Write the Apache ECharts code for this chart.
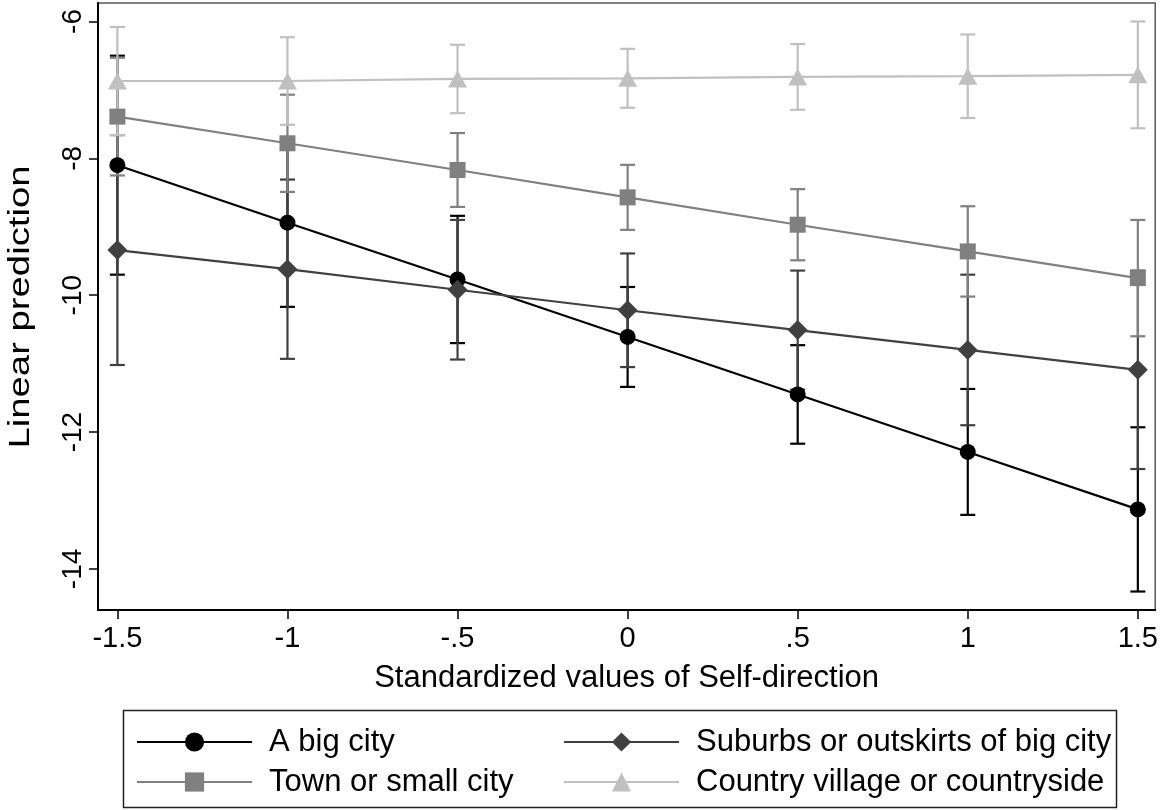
<!DOCTYPE html>
<html>
<head>
<meta charset="utf-8">
<script src="https://cdn.jsdelivr.net/npm/echarts@6/dist/echarts.min.js"></script>
<style>
html,body{margin:0;padding:0;background:#fff;}
#chart{width:1161px;height:810px;}
</style>
</head>
<body>
<div id="chart"></div>
<script>
// ---- data ----
const xValues = [-1.5, -1, -0.5, 0, 0.5, 1, 1.5];
const xTickLabels = ['-1.5', '-1', '-.5', '0', '.5', '1', '1.5'];
const yTickValues = [-14, -12, -10, -8, -6];
const yTickLabels = ['-14', '-12', '-10', '-8', '-6'];

const seriesNames = ['A big city', 'Suburbs or outskirts of big city', 'Town or small city', 'Country village or countryside'];

const bigCity     = [-8.10, -8.94, -9.77, -10.61, -11.45, -12.29, -13.13];
const bigCityCI   = [1.60, 1.23, 0.93, 0.73, 0.72, 0.92, 1.20];
const suburbs     = [-9.34, -9.62, -9.92, -10.22, -10.51, -10.80, -11.09];
const suburbsCI   = [1.68, 1.31, 1.02, 0.83, 0.87, 1.10, 1.45];
const town        = [-7.39, -7.78, -8.17, -8.57, -8.97, -9.36, -9.75];
const townCI      = [0.86, 0.71, 0.54, 0.475, 0.52, 0.66, 0.85];
const country     = [-6.87, -6.87, -6.84, -6.83, -6.81, -6.80, -6.78];
const countryCI   = [0.79, 0.64, 0.50, 0.43, 0.48, 0.61, 0.78];

// ---- styling ----
const FONT = '"Liberation Sans", Arial, sans-serif';
const colors = ['#000000', '#404040', '#808080', '#c0c0c0'];
const symbols = ['circle', 'diamond', 'rect', 'triangle'];
const symbolSizes = [16, 20, 16, [19, 17]];
const means = [bigCity, suburbs, town, country];
const cis = [bigCityCI, suburbsCI, townCI, countryCI];

const chart = echarts.init(document.getElementById('chart'), null, {renderer: 'canvas'});

function makeCI(i) {
  const data = xValues.map((x, k) => [x, means[i][k] - cis[i][k], means[i][k] + cis[i][k]]);
  const color = colors[i];
  return {
    type: 'custom',
    name: 'ci' + i,
    z: 2 + i * 0.01,
    silent: true,
    data: data,
    encode: {x: 0, y: [1, 2]},
    renderItem: function (params, api) {
      const x = api.value(0);
      const pLo = api.coord([x, api.value(1)]);
      const pHi = api.coord([x, api.value(2)]);
      const hw = 7.5;
      const st = {stroke: color, lineWidth: 2.2, fill: null};
      return {
        type: 'group',
        children: [
          {type: 'line', shape: {x1: pLo[0], y1: pLo[1], x2: pHi[0], y2: pHi[1]}, style: st},
          {type: 'line', shape: {x1: pLo[0] - hw, y1: pLo[1], x2: pLo[0] + hw, y2: pLo[1]}, style: st},
          {type: 'line', shape: {x1: pHi[0] - hw, y1: pHi[1], x2: pHi[0] + hw, y2: pHi[1]}, style: st}
        ]
      };
    }
  };
}

function makeLine(i) {
  return {
    type: 'line',
    name: seriesNames[i],
    z: 5 + i * 0.01,
    data: xValues.map((x, k) => [x, means[i][k]]),
    symbol: symbols[i],
    symbolSize: symbolSizes[i],
    showSymbol: true,
    lineStyle: {color: colors[i], width: 2.2},
    itemStyle: {color: colors[i]},
    emphasis: {disabled: true},
    animation: false
  };
}

const series = [];
for (let i = 0; i < 4; i++) series.push(makeCI(i));
for (let i = 0; i < 4; i++) series.push(makeLine(i));

const legendCommon = {
  orient: 'vertical',
  top: 726,
  padding: 0,
  itemWidth: 115,
  itemHeight: 24,
  itemGap: 8,
  selectedMode: false,
  textStyle: {fontFamily: FONT, fontSize: 31, color: '#000', lineHeight: 32, padding: [0, 0, 0, 12]}
};

const option = {
  backgroundColor: '#ffffff',
  animation: false,
  textStyle: {fontFamily: FONT},
  grid: {
    left: 98, right: 5, top: 3, bottom: 200,
    show: true, borderColor: '#555', borderWidth: 1.5, backgroundColor: 'transparent'
  },
  xAxis: {
    type: 'value',
    min: -1.557, max: 1.551,
    name: 'Standardized values of Self-direction',
    nameLocation: 'middle',
    nameGap: 53,
    nameTextStyle: {fontFamily: FONT, fontSize: 31, color: '#000'},
    axisLine: {show: true, onZero: false, lineStyle: {color: '#000', width: 2}},
    axisTick: {show: true, length: 9, lineStyle: {color: '#000', width: 1.5}, customValues: xValues},
    axisLabel: {
      show: true, margin: 14, fontFamily: FONT, fontSize: 29, color: '#000',
      customValues: xValues,
      formatter: function (v) {
        const k = xValues.findIndex(t => Math.abs(t - v) < 1e-6);
        return k >= 0 ? xTickLabels[k] : '';
      }
    },
    splitLine: {show: false}
  },
  yAxis: {
    type: 'value',
    min: -14.60, max: -5.73,
    axisLine: {show: true, onZero: false, lineStyle: {color: '#000', width: 2}},
    axisTick: {show: true, length: 9, lineStyle: {color: '#000', width: 1.5}, customValues: yTickValues},
    axisLabel: {
      show: true, margin: 11, rotate: 90, fontFamily: FONT, fontSize: 28, color: '#000',
      customValues: yTickValues,
      formatter: function (v) {
        const k = yTickValues.findIndex(t => Math.abs(t - v) < 1e-6);
        return k >= 0 ? yTickLabels[k] : '';
      }
    },
    splitLine: {show: false}
  },
  legend: [
    Object.assign({}, legendCommon, {left: 136, data: [seriesNames[0], seriesNames[2]]}),
    Object.assign({}, legendCommon, {left: 563, data: [seriesNames[1], seriesNames[3]]})
  ],
  graphic: [
    {
      type: 'rect',
      shape: {x: 123.5, y: 710.5, width: 993, height: 97},
      style: {fill: null, stroke: '#222', lineWidth: 1.5},
      silent: true
    },
    {
      type: 'text',
      x: 21, y: 307,
      rotation: Math.PI / 2,
      scaleX: 1.32,
      style: {
        text: 'Linear prediction',
        font: '29px ' + FONT,
        fill: '#000',
        align: 'center',
        verticalAlign: 'middle'
      },
      silent: true
    }
  ],
  series: series
};

chart.setOption(option);
</script>
</body>
</html>
